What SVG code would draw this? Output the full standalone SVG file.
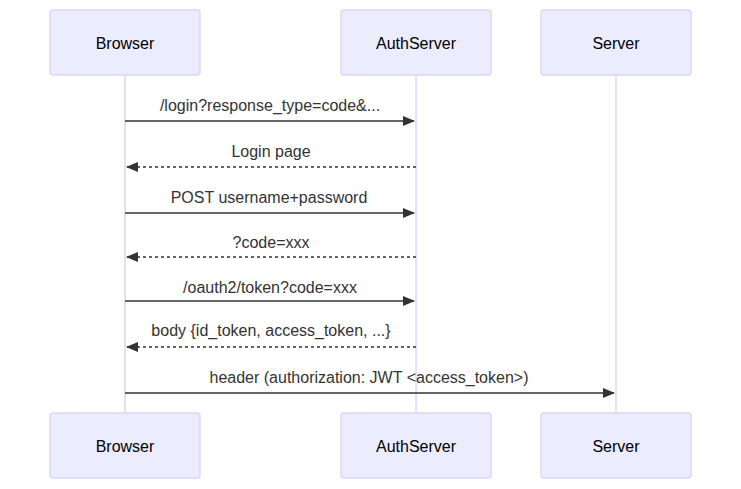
<svg xmlns="http://www.w3.org/2000/svg" width="741" height="489" viewBox="0 0 741 489">
<style>
.actor{fill:#ECECFF;stroke:#DDD5F7;stroke-width:1.5}
.life{stroke:#DDD5F7;stroke-width:1.5;fill:none}
.atext{font-family:"Liberation Sans",Arial,sans-serif;font-size:16px;fill:#000;text-anchor:middle;dominant-baseline:central}
.mtext{font-family:"Liberation Sans",Arial,sans-serif;font-size:16px;fill:#333;text-anchor:middle}
.msg{stroke:#333;stroke-width:1.5;fill:none}
.dash{stroke-dasharray:3,3}
</style>
<defs>
<marker id="ah" viewBox="0 0 12 10" refX="11" refY="5" markerWidth="12" markerHeight="10" markerUnits="userSpaceOnUse" orient="auto">
<path d="M0,0 L12,5 L0,10 z" fill="#333"/>
</marker>
</defs>
<g id="lifelines">
<line class="life" x1="125" y1="75" x2="125" y2="413"/>
<line class="life" x1="416" y1="75" x2="416" y2="413"/>
<line class="life" x1="616" y1="75" x2="616" y2="413"/>
</g>
<g id="browser-top"><rect class="actor" x="50" y="10" width="150" height="65" rx="3"/><text class="atext" x="125" y="43">Browser</text></g>
<g id="auth-top"><rect class="actor" x="341" y="10" width="150" height="65" rx="3"/><text class="atext" x="416" y="43">AuthServer</text></g>
<g id="server-top"><rect class="actor" x="541" y="10" width="150" height="65" rx="3"/><text class="atext" x="616" y="43">Server</text></g>
<g id="browser-bottom"><rect class="actor" x="50" y="413" width="150" height="65" rx="3"/><text class="atext" x="125" y="446">Browser</text></g>
<g id="auth-bottom"><rect class="actor" x="341" y="413" width="150" height="65" rx="3"/><text class="atext" x="416" y="446">AuthServer</text></g>
<g id="server-bottom"><rect class="actor" x="541" y="413" width="150" height="65" rx="3"/><text class="atext" x="616" y="446">Server</text></g>
<g id="connectors">
<line class="msg" x1="125" y1="121" x2="414" y2="121" marker-end="url(#ah)"/>
<line class="msg dash" x1="416" y1="167" x2="127" y2="167" marker-end="url(#ah)"/>
<line class="msg" x1="125" y1="213" x2="414" y2="213" marker-end="url(#ah)"/>
<line class="msg dash" x1="416" y1="257" x2="127" y2="257" marker-end="url(#ah)"/>
<line class="msg" x1="125" y1="301" x2="414" y2="301" marker-end="url(#ah)"/>
<line class="msg dash" x1="416" y1="347" x2="127" y2="347" marker-end="url(#ah)"/>
<line class="msg" x1="125" y1="393" x2="614" y2="393" marker-end="url(#ah)"/>
<text class="mtext" x="270" y="111">/login?response_type=code&amp;...</text>
<text class="mtext" x="271" y="157">Login page</text>
<text class="mtext" x="269" y="203">POST username+password</text>
<text class="mtext" x="271" y="248">?code=xxx</text>
<text class="mtext" x="270" y="293">/oauth2/token?code=xxx</text>
<text class="mtext" x="271" y="336">body {id_token, access_token, ...}</text>
<text class="mtext" x="369" y="383">header (authorization: JWT &lt;access_token&gt;)</text>
</g>
</svg>
